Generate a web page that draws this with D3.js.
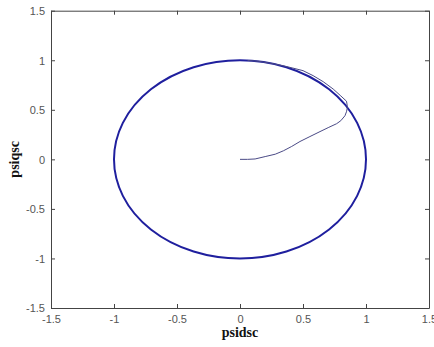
<!DOCTYPE html>
<html>
<head>
<meta charset="utf-8">
<script src="https://cdn.jsdelivr.net/npm/d3@7"></script>
<style>
  html, body { margin: 0; padding: 0; background: #fff; }
  svg { display: block; }
  .tick text { font-family: "Liberation Sans", Arial, sans-serif; font-size: 11px; fill: #555; }
  .lbl { font-family: "Liberation Serif", "Times New Roman", serif; font-weight: bold; font-size: 14px; fill: #111; }
</style>
</head>
<body>
<script>
// Stator flux trajectory in the d-q plane (psidsc vs psiqsc)
const xTicks = [-1.5, -1, -0.5, 0, 0.5, 1, 1.5];
const yTicks = [-1.5, -1, -0.5, 0, 0.5, 1, 1.5];
const xLabels = ["-1.5", "-1", "-0.5", "0", "0.5", "1", "1.5"];
const yLabels = ["-1.5", "-1", "-0.5", "0", "0.5", "1", "1.5"];

// steady-state flux magnitude (the circle)
const fluxRadius = 1.0;
const fluxCentre = [0, 0];

// start-up transient: psidsc / psiqsc samples
const psidsc = [0, 0.06, 0.12, 0.2, 0.28, 0.344, 0.41, 0.476, 0.555, 0.635, 0.70, 0.767, 0.80, 0.833, 0.845, 0.852, 0.849, 0.845, 0.80, 0.74, 0.66, 0.58, 0.50, 0.42, 0.34, 0.25, 0.15, 0.06];
const psiqsc = [0, 0.0, 0.004, 0.028, 0.052, 0.086, 0.13, 0.18, 0.23, 0.28, 0.32, 0.36, 0.39, 0.44, 0.48, 0.52, 0.56, 0.587, 0.640, 0.709, 0.784, 0.845, 0.895, 0.921, 0.945, 0.968, 0.989, 0.998];

const W = 434, H = 347;
const m = { left: 51, right: 5, top: 10.7, bottom: 39 };

const svg = d3.select("body").append("svg").attr("width", W).attr("height", H);

const x = d3.scaleLinear().domain([-1.5, 1.5]).range([m.left, W - m.right]);
const y = d3.scaleLinear().domain([-1.5, 1.5]).range([H - m.bottom, m.top]);

const axisColor = "#444";
const tickLen = 4;

// bottom and left axes with inward ticks
const gx = svg.append("g").attr("transform", `translate(0,${y(-1.5)})`)
  .call(d3.axisBottom(x).tickValues(xTicks).tickFormat((d, i) => xLabels[i]).tickSizeInner(-tickLen).tickSizeOuter(0).tickPadding(7));
const gy = svg.append("g").attr("transform", `translate(${x(-1.5)},0)`)
  .call(d3.axisLeft(y).tickValues(yTicks).tickFormat((d, i) => yLabels[i]).tickSizeInner(-tickLen).tickSizeOuter(0).tickPadding(6));
// top and right ticks (box)
const gt = svg.append("g").attr("transform", `translate(0,${y(1.5)})`)
  .call(d3.axisTop(x).tickValues(xTicks).tickFormat("").tickSizeInner(-tickLen).tickSizeOuter(0));
const gr = svg.append("g").attr("transform", `translate(${x(1.5)},0)`)
  .call(d3.axisRight(y).tickValues(yTicks).tickFormat("").tickSizeInner(-tickLen).tickSizeOuter(0));

[gx, gy, gt, gr].forEach(g => {
  g.select(".domain").attr("stroke", axisColor).attr("stroke-width", 1);
  g.selectAll(".tick line").attr("stroke", axisColor);
});
gy.selectAll(".tick text").attr("dy", "0.35em");

// steady-state flux circle
svg.append("ellipse")
  .attr("cx", x(fluxCentre[0]))
  .attr("cy", y(fluxCentre[1]))
  .attr("rx", x(fluxRadius) - x(0))
  .attr("ry", y(0) - y(fluxRadius))
  .attr("fill", "none")
  .attr("stroke", "#1f1f9e")
  .attr("stroke-width", 2);

// start-up transient trajectory
const pts = psidsc.map((d, i) => [d, psiqsc[i]]);
svg.append("path")
  .datum(pts)
  .attr("d", d3.line().x(d => x(d[0])).y(d => y(d[1])))
  .attr("fill", "none")
  .attr("stroke", "#4a4a86")
  .attr("stroke-width", 1);

// axis labels
svg.append("text").attr("class", "lbl")
  .attr("x", x(0)).attr("y", 337)
  .attr("text-anchor", "middle").text("psidsc");
svg.append("text").attr("class", "lbl")
  .attr("transform", `translate(19,${y(0)}) rotate(-90)`)
  .attr("text-anchor", "middle").text("psiqsc");
</script>
</body>
</html>
